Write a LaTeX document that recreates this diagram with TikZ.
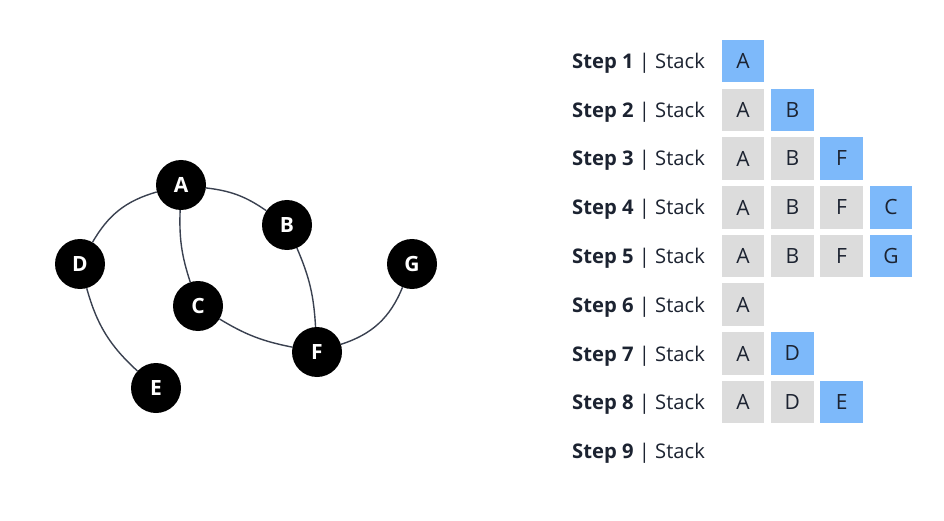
\documentclass[tikz,border=0pt]{standalone}
\usepackage{fontspec}
\setmainfont{Open Sans}
\definecolor{TextColor}{HTML}{1C2331}
\definecolor{EdgeColor}{HTML}{3A4150}
\definecolor{PushedCell}{HTML}{7DB9FA}
\definecolor{StackedCell}{HTML}{DCDCDC}
\tikzset{
    vertex/.style={
        circle, fill=black, minimum size=50pt, inner sep=0pt,
        text=white, font=\fontsize{21}{21}\selectfont\bfseries
    },
    edge/.style={draw=EdgeColor, line width=1.4pt},
    steplabel/.style={
        anchor=base west, inner sep=0pt, text=TextColor,
        font=\fontsize{20.2}{20.2}\selectfont
    },
    cell/.style={
        minimum size=42.5pt, inner sep=0pt, text=TextColor,
        font=\fontsize{21}{21}\selectfont
    },
    old cell/.style={cell, fill=StackedCell},
    new cell/.style={cell, fill=PushedCell}
}

\begin{document}
\begin{tikzpicture}[x=1pt, y=-1pt]

\useasboundingbox[fill=white] (0,0) rectangle (944,521);

% Vertices of the graph.
\node[vertex] (A) at (181,185) {A};
\node[vertex] (B) at (287,225) {B};
\node[vertex] (C) at (198,306) {C};
\node[vertex] (D) at (80,264) {D};
\node[vertex] (E) at (156,388) {E};
\node[vertex] (F) at (317,352) {F};
\node[vertex] (G) at (412,264) {G};

% Edges between the vertices.
\draw[edge] (A) to[bend right=22] (D);
\draw[edge] (A) to[bend left=14] (B);
\draw[edge] (A) to[bend right=10] (C);
\draw[edge] (B) to[bend left=10] (F);
\draw[edge] (C) to[bend right=10] (F);
\draw[edge] (F) to[bend right=25] (G);
\draw[edge] (D) to[bend right=16] (E);

% Labels of each step.
\node[steplabel] (L1) at (572,68.5) {\textbf{Step 1} | Stack};
\node[steplabel] (L2) at (572,117.5) {\textbf{Step 2} | Stack};
\node[steplabel] (L3) at (572,166) {\textbf{Step 3} | Stack};
\node[steplabel] (L4) at (572,215) {\textbf{Step 4} | Stack};
\node[steplabel] (L5) at (572,263.5) {\textbf{Step 5} | Stack};
\node[steplabel] (L6) at (572,312) {\textbf{Step 6} | Stack};
\node[steplabel] (L7) at (572,361) {\textbf{Step 7} | Stack};
\node[steplabel] (L8) at (572,409.5) {\textbf{Step 8} | Stack};
\node[steplabel] (L9) at (572,458) {\textbf{Step 9} | Stack};

% Contents of the stack; the last pushed cell is blue.
\node[new cell] (S1a) at (743,61) {A};

\node[old cell] (S2a) at (743,110) {A};
\node[new cell] (S2b) at (792.3,110) {B};

\node[old cell] (S3a) at (743,158.5) {A};
\node[old cell] (S3b) at (792.3,158.5) {B};
\node[new cell] (S3c) at (841.6,158.5) {F};

\node[old cell] (S4a) at (743,207.5) {A};
\node[old cell] (S4b) at (792.3,207.5) {B};
\node[old cell] (S4c) at (841.6,207.5) {F};
\node[new cell] (S4d) at (890.9,207.5) {C};

\node[old cell] (S5a) at (743,256) {A};
\node[old cell] (S5b) at (792.3,256) {B};
\node[old cell] (S5c) at (841.6,256) {F};
\node[new cell] (S5d) at (890.9,256) {G};

\node[old cell] (S6a) at (743,304.5) {A};

\node[old cell] (S7a) at (743,353.5) {A};
\node[new cell] (S7b) at (792.3,353.5) {D};

\node[old cell] (S8a) at (743,402) {A};
\node[old cell] (S8b) at (792.3,402) {D};
\node[new cell] (S8c) at (841.6,402) {E};

\end{tikzpicture}
\end{document}
